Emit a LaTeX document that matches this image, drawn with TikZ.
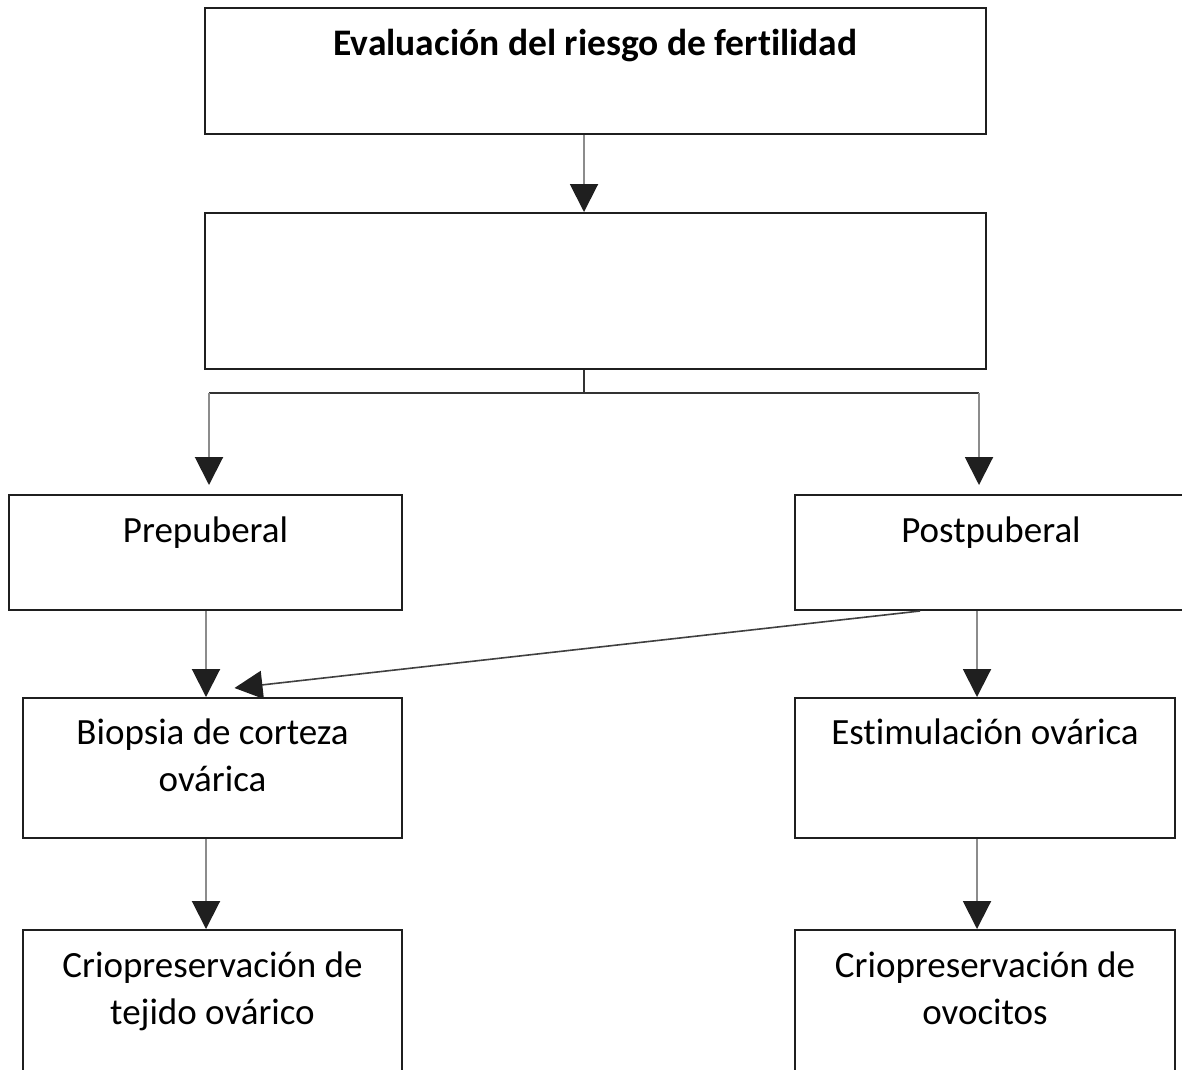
\documentclass[tikz,border=0pt]{standalone}
\usepackage{fontspec}
\setmainfont{Carlito}[Ligatures=NoCommon]
\usetikzlibrary{arrows.meta}

\begin{document}
\begin{tikzpicture}[
  x=1pt, y=-1pt,
  box/.style={draw=black!88, line width=2pt, rectangle, anchor=north west, inner sep=0pt},
  txt/.style={font=\fontsize{37pt}{47pt}\selectfont, align=center, anchor=base, inner sep=0pt},
  head/.style={txt, font=\fontsize{37.5pt}{47pt}\selectfont\bfseries},
  tip/.style={-{Triangle[width=28pt, length=28pt, color=black!88]}},
  conn/.style={tip, draw=black!45, line width=2pt},
  bus/.style={draw=black!80, line width=2pt},
  diag/.style={tip, draw=black!75, line width=1.6pt},
]
  \fill[white] (0,0) rectangle (1182,1069);
  \useasboundingbox (0,0) rectangle (1182,1069);
  \clip (0,0) rectangle (1182,1069);

  % boxes
  \node[box, minimum width=781pt, minimum height=126pt] (eval) at (204,7) {};
  \node[box, minimum width=781pt, minimum height=156pt] (decide) at (204,212) {};
  \node[box, minimum width=393pt, minimum height=115pt] (pre) at (8,494) {};
  \node[box, minimum width=392pt, minimum height=115pt] (post) at (794,494) {};
  \node[box, minimum width=379pt, minimum height=140pt] (biop) at (22,697) {};
  \node[box, minimum width=380pt, minimum height=140pt] (estim) at (794,697) {};
  \node[box, minimum width=379pt, minimum height=170pt] (crioT) at (22,929) {};
  \node[box, minimum width=380pt, minimum height=170pt] (crioO) at (794,929) {};

  % texts (base = last line)
  \node[head] (evalT) at ([yshift=-48pt]eval.north) {Evaluación del riesgo de fertilidad};
  \node[txt] (preT) at ([yshift=-48pt]pre.north) {Prepuberal};
  \node[txt] (postT) at ([yshift=-48pt]post.north) {Postpuberal};
  \node[txt] (biopT) at ([yshift=-94pt]biop.north) {Biopsia de corteza\\ovárica};
  \node[txt] (estimT) at ([yshift=-47pt]estim.north) {Estimulación ovárica};
  \node[txt] (crioTT) at ([yshift=-95pt]crioT.north) {Criopreservación de\\tejido ovárico};
  \node[txt] (crioOT) at ([yshift=-95pt]crioO.north) {Criopreservación de\\ovocitos};

  % branch points
  \coordinate (fork) at (584,393);
  \coordinate (lbus) at (209,393);
  \coordinate (rbus) at (979,393);
  \coordinate (lcol) at (206,0);
  \coordinate (rcol) at (977,0);

  % connectors
  \draw[conn] (eval.south -| fork) -- (decide.north -| fork);
  \draw[bus] (decide.south -| fork) -- (fork);
  \draw[bus] (lbus) -- (rbus);
  \draw[conn, shorten >=9pt] (lbus) -- (pre.north -| lbus);
  \draw[conn, shorten >=9pt] (rbus) -- (post.north -| rbus);
  \draw[conn] (pre.south -| lcol) -- (biop.north -| lcol);
  \draw[conn] (post.south -| rcol) -- (estim.north -| rcol);
  \draw[diag] ([xshift=126pt]post.south west) -- ([xshift=22pt, yshift=9pt]biop.north);
  \draw[conn] (biop.south -| lcol) -- (crioT.north -| lcol);
  \draw[conn] (estim.south -| rcol) -- (crioO.north -| rcol);
\end{tikzpicture}
\end{document}
